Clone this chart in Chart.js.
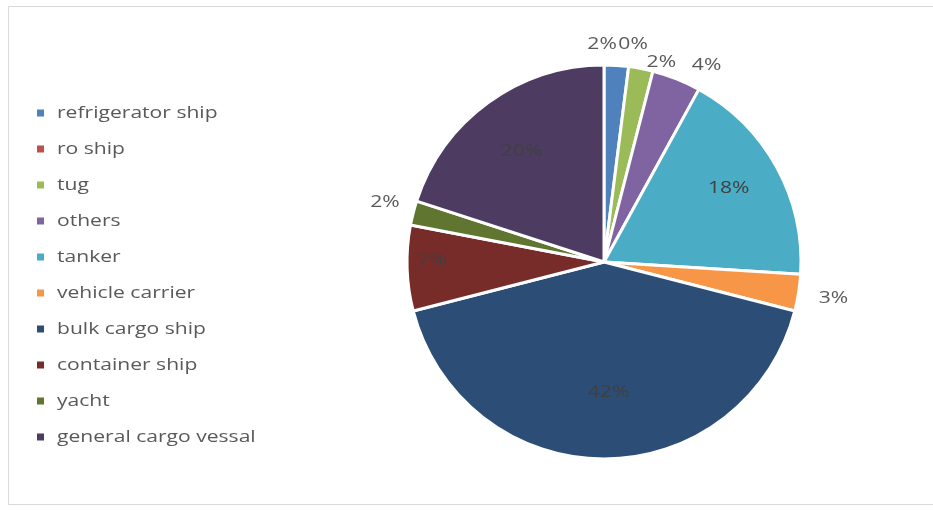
<!DOCTYPE html>
<html>
<head>
<meta charset="utf-8">
<title>Ship types</title>
<script src="https://cdn.jsdelivr.net/npm/chart.js@4.4.1/dist/chart.umd.min.js"></script>
<style>
  html, body { margin: 0; padding: 0; background: #fff; }
  #wrap { position: relative; width: 933px; height: 511px; }
  canvas { display: block; }
</style>
</head>
<body>
<div id="wrap"><canvas id="chart" width="933" height="511"></canvas></div>
<script>
// Share of ship types, in percent
const shipTypes = [
  'refrigerator ship', 'ro ship', 'tug', 'others', 'tanker',
  'vehicle carrier', 'bulk cargo ship', 'container ship', 'yacht', 'general cargo vessal'
];
const sharePercent = [2, 0, 2, 4, 18, 3, 42, 7, 2, 20];
const sliceColors = [
  '#4F81BD', '#C0504D', '#9BBB59', '#8064A2', '#4BACC6',
  '#F79646', '#2C4D75', '#772C2A', '#5F7530', '#4D3B62'
];

// Where each percentage label sits: radius as a fraction of the pie radius,
// plus a small angular nudge (degrees) from the slice's middle.
const labelPlacement = [
  { r: 1.107, da: -4.1 },
  { r: 1.117, da: 0.4 },
  { r: 1.056, da: 5.2 },
  { r: 1.128, da: 5.9 },
  { r: 0.737, da: -2.0 },
  { r: 1.179, da: 0.0 },
  { r: 0.663, da: -2.0 },
  { r: 0.872, da: 2.5 },
  { r: 1.153, da: 1.0 },
  { r: 0.700, da: -0.7 }
];

const FONT = '17px "Open Sans", "DejaVu Sans", sans-serif';
const TEXT_STRETCH = 1.24;   // wide lettering
const TEXT_COLOR = '#595959';

// Draw text stretched horizontally around its anchor point
function wideText(ctx, text, x, y, align) {
  ctx.save();
  ctx.translate(x, y);
  ctx.scale(TEXT_STRETCH, 1);
  ctx.textAlign = align;
  ctx.fillText(text, 0, 0);
  ctx.restore();
}

// Light frame edges (top, left, bottom) around the chart
const framePlugin = {
  id: 'frame',
  beforeDraw(chart) {
    const ctx = chart.ctx;
    ctx.save();
    ctx.fillStyle = '#ffffff';
    ctx.fillRect(0, 0, chart.width, chart.height);
    ctx.strokeStyle = '#d9d9d9';
    ctx.lineWidth = 1;
    ctx.beginPath();
    ctx.moveTo(chart.width, 6.5);
    ctx.lineTo(8.5, 6.5);
    ctx.lineTo(8.5, 504.5);
    ctx.lineTo(chart.width, 504.5);
    ctx.stroke();
    ctx.restore();
  }
};

// Legend list on the left
const sideLegendPlugin = {
  id: 'sideLegend',
  afterDraw(chart) {
    const ctx = chart.ctx;
    const labels = chart.data.labels;
    const colors = chart.data.datasets[0].backgroundColor;
    ctx.save();
    ctx.font = FONT;
    ctx.textBaseline = 'middle';
    labels.forEach((lab, i) => {
      const y = 113 + i * 36;
      ctx.fillStyle = colors[i];
      ctx.fillRect(37, y - 3.5, 7, 7);
      ctx.fillStyle = TEXT_COLOR;
      wideText(ctx, lab, 57, y, 'left');
    });
    ctx.restore();
  }
};

// Percentage labels placed from each arc's geometry
const pctLabelPlugin = {
  id: 'pctLabels',
  afterDatasetsDraw(chart) {
    const ctx = chart.ctx;
    const meta = chart.getDatasetMeta(0);
    const values = chart.data.datasets[0].data;
    ctx.save();
    ctx.font = FONT;
    ctx.textBaseline = 'middle';
    meta.data.forEach((arc, i) => {
      const p = arc.getProps(['x', 'y', 'startAngle', 'endAngle', 'outerRadius'], true);
      const place = labelPlacement[i];
      const mid = (p.startAngle + p.endAngle) / 2 + place.da * Math.PI / 180;
      const r = p.outerRadius * place.r;
      const tx = p.x + Math.cos(mid) * r;
      const ty = p.y + Math.sin(mid) * r;
      ctx.fillStyle = place.r < 1 ? '#404040' : TEXT_COLOR;
      wideText(ctx, Math.round(values[i]) + '%', tx, ty, 'center');
    });
    ctx.restore();
  }
};

new Chart(document.getElementById('chart'), {
  type: 'pie',
  data: {
    labels: shipTypes,
    datasets: [{
      data: sharePercent,
      backgroundColor: sliceColors,
      borderColor: '#ffffff',
      borderWidth: 3
    }]
  },
  options: {
    responsive: false,
    animation: false,
    radius: 197,
    layout: { padding: { left: 275, right: 0, top: 65, bottom: 52 } },
    plugins: {
      legend: { display: false },
      tooltip: { enabled: false }
    }
  },
  plugins: [framePlugin, sideLegendPlugin, pctLabelPlugin]
});
</script>
</body>
</html>
